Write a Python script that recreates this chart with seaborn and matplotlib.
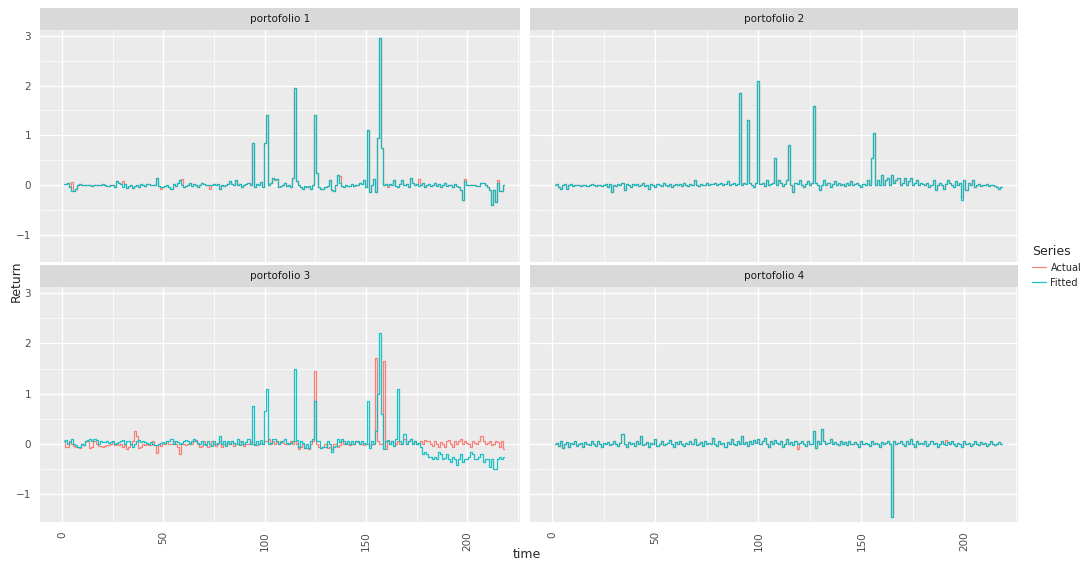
import numpy as np
import pandas as pd
import matplotlib
matplotlib.use("Agg")
import matplotlib.pyplot as plt
import seaborn as sns

panels = ["portofolio 1", "portofolio 2", "portofolio 3", "portofolio 4"]
series_names = ["Actual", "Fitted"]

p1_fit = [0.03,0.02,0.05,-0.05,-0.12,-0.12,-0.08,0.0,0.02,0.01,0.0,-0.01,0.0,0.01,-0.02,0.0,0.0,-0.01,0.01,0.02,
 0.0,-0.03,-0.03,0.0,0.01,-0.04,0.08,0.05,0.03,-0.05,0.02,-0.07,-0.02,0.0,-0.06,-0.03,0.01,-0.04,0.02,0.0,
 -0.02,0.02,0.03,0.0,0.01,0.01,0.15,-0.03,-0.05,-0.05,-0.02,0.0,-0.05,-0.08,0.02,-0.03,0.04,0.1,0.0,-0.05,
 -0.02,0.01,0.05,-0.03,0.03,0.0,-0.05,0.0,0.04,0.02,0.0,0.0,0.01,-0.01,0.02,0.0,0.03,-0.08,0.01,-0.02,
 0.01,0.02,0.08,0.03,0.0,0.1,0.0,0.02,-0.05,0.0,0.02,0.05,0.01,0.85,-0.05,0.02,0.0,0.06,-0.05,0.85,
 1.4,0.0,0.05,0.15,0.12,0.12,-0.05,-0.03,0.0,0.05,-0.02,0.0,-0.05,0.15,1.95,0.08,0.0,-0.05,-0.08,-0.02,
 -0.05,-0.03,-0.08,0.0,1.4,0.25,-0.05,-0.08,-0.08,-0.05,-0.03,0.1,-0.1,-0.12,0.0,0.2,0.05,-0.02,-0.05,0.0,
 -0.03,-0.02,0.02,-0.02,0.0,0.0,0.05,0.02,0.1,-0.05,1.1,-0.15,0.0,0.12,-0.15,0.95,2.95,0.75,0.0,0.02,
 0.0,0.02,0.0,0.1,-0.03,-0.05,0.02,0.1,0.0,0.02,-0.05,0.15,0.05,0.0,0.02,-0.03,0.0,0.05,-0.05,0.0,
 0.02,-0.02,0.0,0.05,-0.03,0.02,-0.05,0.0,0.05,-0.02,0.0,0.0,-0.05,0.02,-0.03,-0.05,-0.1,-0.3,0.08,0.0,
 0.0,0.0,0.0,0.0,-0.03,-0.02,0.05,0.05,0.0,-0.05,-0.1,-0.4,-0.1,-0.35,0.05,-0.12,-0.12,0.0]
p1_act_changes = {4: 0.06, 29: 0.08, 48: -0.08, 58: 0.12, 72: -0.08, 104: 0.1, 136: 0.18, 160: -0.05, 175: 0.12, 198: 0.12, 214: 0.1}

p2_fit = [0.0,0.02,-0.05,-0.08,0.0,0.03,-0.08,0.0,0.02,-0.03,0.0,0.01,0.0,-0.02,0.0,0.01,-0.03,0.0,0.02,0.0,
 -0.02,0.0,0.01,-0.03,0.0,0.02,-0.05,0.03,-0.15,0.0,-0.03,0.02,0.0,0.05,-0.1,0.02,0.0,-0.05,0.03,0.0,
 0.02,-0.03,0.0,0.05,-0.02,0.0,-0.08,0.02,0.0,-0.05,0.03,0.0,-0.02,0.05,0.0,-0.03,0.02,-0.05,0.0,0.02,
 0.0,0.03,-0.02,0.05,0.0,-0.03,0.02,0.0,0.1,0.0,-0.02,0.03,0.0,0.0,0.05,0.0,0.03,0.02,0.05,0.0,
 0.02,0.05,0.0,0.03,0.08,0.0,0.03,0.05,0.0,0.02,1.85,0.0,0.05,0.02,1.3,0.05,0.0,-0.05,0.05,2.1,
 0.02,0.05,-0.03,0.1,0.0,0.03,0.05,0.55,0.0,0.1,0.05,-0.03,0.02,0.1,0.8,0.0,-0.15,0.05,0.03,0.1,
 0.0,-0.05,0.03,0.08,0.0,0.05,1.6,0.05,0.0,-0.1,0.0,0.1,0.0,0.05,-0.05,0.02,0.08,0.0,0.05,0.0,
 0.03,-0.03,0.05,0.0,0.08,0.0,0.02,0.05,0.0,-0.05,0.03,0.0,0.1,0.0,0.55,1.05,0.0,0.1,0.0,0.2,
 0.0,0.1,0.15,0.0,0.2,0.05,0.1,0.15,0.0,0.05,0.15,0.0,0.08,0.15,0.0,0.05,0.1,0.0,0.05,0.02,
 0.0,0.05,-0.05,0.0,0.1,-0.1,0.0,0.05,0.0,-0.08,0.02,0.1,0.05,0.0,-0.05,0.08,0.0,0.05,-0.3,0.1,
 -0.1,0.05,0.0,0.1,-0.05,0.0,0.02,-0.03,0.0,0.0,0.02,-0.02,0.0,0.0,-0.03,-0.05,-0.08,-0.05]
p2_act_changes = {198: -0.25}

p3_fit = [0.05,0.08,0.0,0.03,0.1,0.0,-0.02,-0.05,-0.05,0.0,-0.02,0.05,0.08,0.1,0.05,0.1,0.08,0.0,0.05,0.03,
 0.03,0.05,0.02,0.03,0.05,0.0,0.02,0.03,0.05,0.08,0.0,0.05,0.05,0.0,-0.05,0.0,0.05,0.08,0.03,0.05,
 0.03,0.02,0.0,0.03,0.0,-0.02,-0.02,0.0,0.02,0.03,0.02,0.05,0.05,0.1,0.0,0.05,0.03,0.0,0.02,0.05,
 0.08,0.05,0.0,0.05,0.1,0.05,0.02,0.0,0.05,0.0,-0.02,0.05,0.0,-0.03,0.05,0.0,0.02,0.15,0.0,0.05,
 -0.03,0.05,0.0,0.05,0.02,0.0,0.1,-0.02,0.05,0.0,0.03,0.1,0.0,0.75,-0.02,0.05,0.0,0.08,0.0,0.65,
 1.1,0.0,0.02,0.1,0.1,0.05,0.0,0.03,0.05,0.1,0.02,0.0,0.02,0.05,1.5,0.08,-0.05,0.05,0.02,-0.08,
 0.0,-0.08,0.05,0.1,0.85,0.05,0.05,-0.08,-0.05,-0.05,0.05,0.0,-0.15,-0.05,-0.03,0.1,0.03,0.1,0.05,0.0,
 0.05,0.0,0.05,0.0,0.05,0.05,0.0,0.05,0.02,0.0,0.85,-0.08,0.05,0.0,0.25,1.0,2.2,0.6,-0.1,0.05,
 0.08,0.0,0.05,-0.03,0.1,1.1,0.05,0.0,0.2,0.0,0.05,0.1,0.0,0.05,0.0,0.02,-0.05,-0.2,-0.15,-0.2,
 -0.25,-0.25,-0.3,-0.25,-0.3,-0.15,-0.2,-0.3,-0.28,-0.2,-0.3,-0.35,-0.25,-0.3,-0.42,-0.3,-0.2,-0.35,-0.3,-0.3,
 -0.25,-0.15,-0.2,-0.3,-0.3,-0.25,-0.2,-0.35,-0.3,-0.3,-0.45,-0.3,-0.5,-0.5,-0.3,-0.25,-0.3,-0.25]
p3_act = [0.05,-0.05,-0.05,0.05,0.0,-0.03,-0.05,-0.05,-0.08,0.0,-0.02,0.05,0.05,-0.08,-0.05,0.05,0.0,-0.03,-0.03,-0.05,
 -0.03,-0.02,-0.01,0.0,0.03,-0.02,0.0,-0.02,0.0,-0.05,-0.02,-0.1,-0.05,0.0,0.05,0.25,0.15,-0.08,-0.05,0.0,
 -0.02,0.0,-0.02,-0.02,0.05,-0.02,-0.18,0.0,-0.03,0.0,0.0,0.05,0.0,0.0,0.05,0.0,-0.05,-0.2,0.0,0.0,
 -0.02,0.0,0.02,0.0,0.05,0.08,0.0,-0.05,-0.03,0.05,0.0,-0.05,-0.03,0.05,0.0,-0.03,0.0,0.05,-0.05,0.0,
 0.0,0.02,0.0,0.05,-0.03,0.0,0.0,0.05,0.0,-0.03,0.0,0.0,0.05,0.0,0.0,-0.02,0.0,0.02,0.0,0.05,
 0.05,0.1,0.0,0.05,0.0,0.03,0.0,0.05,0.02,0.0,0.0,0.02,0.05,0.0,0.05,0.0,-0.1,-0.05,0.0,-0.08,
 -0.08,-0.1,0.0,0.05,1.45,0.0,-0.05,-0.08,-0.05,0.0,-0.08,-0.05,-0.1,0.0,0.0,-0.05,-0.02,0.05,0.0,0.02,
 0.0,-0.02,0.0,0.0,0.05,0.03,0.0,0.0,-0.02,0.0,0.0,-0.02,0.0,0.0,1.7,0.05,0.0,0.0,1.65,-0.1,
 0.05,0.0,0.05,-0.03,0.0,0.05,0.0,0.0,0.1,0.0,0.05,0.1,0.0,0.05,0.0,0.02,0.05,0.0,0.08,0.05,
 0.05,0.0,-0.03,0.05,0.0,-0.05,0.03,0.0,-0.05,0.05,0.08,0.0,-0.05,0.05,0.0,0.05,0.1,0.0,0.05,0.02,
 0.0,-0.05,0.05,0.02,0.0,0.05,0.15,0.05,0.0,0.02,0.05,-0.02,0.0,0.05,0.03,-0.05,0.05,-0.1]

p4_fit = [0.0,0.02,-0.03,0.05,-0.08,0.0,0.03,-0.05,0.02,0.0,0.05,-0.03,0.0,0.02,-0.05,0.03,0.0,-0.02,0.05,0.0,
 -0.03,0.05,0.0,-0.05,0.02,0.0,0.03,-0.02,0.0,0.05,0.0,-0.03,0.02,0.2,0.0,-0.05,0.03,0.0,0.02,-0.03,
 0.05,0.0,0.15,-0.02,0.0,0.03,-0.05,0.02,0.0,0.1,-0.03,0.0,0.05,-0.02,0.0,0.02,0.08,0.0,-0.05,0.03,
 0.0,0.05,0.0,-0.03,0.02,0.0,0.05,0.0,0.1,-0.02,0.0,0.03,-0.03,0.05,0.0,0.02,0.0,0.12,0.0,-0.03,
 0.05,0.0,0.02,-0.05,0.03,0.0,0.1,0.0,-0.02,0.05,0.0,0.15,0.0,0.03,-0.03,0.05,0.0,0.08,0.02,0.1,
 0.0,0.05,0.12,0.0,-0.05,0.05,0.0,0.08,0.02,0.0,0.05,-0.05,0.0,0.1,0.0,0.03,-0.02,0.05,0.0,0.02,
 0.05,0.0,-0.03,0.05,0.0,0.0,0.25,-0.08,0.05,0.0,0.3,0.05,0.0,0.02,0.1,0.0,0.03,0.0,-0.02,0.05,
 0.0,0.03,-0.02,0.05,0.0,0.0,0.03,0.0,-0.05,0.05,0.0,0.02,0.0,-0.03,0.05,0.0,0.02,0.0,-0.05,0.03,
 0.0,0.02,0.05,0.0,-1.45,0.05,0.0,0.02,0.05,0.0,-0.03,0.05,0.0,0.1,0.0,-0.05,0.05,0.0,0.02,0.0,
 0.05,-0.03,0.0,0.05,0.0,0.02,-0.05,0.0,0.05,0.0,-0.02,0.03,0.0,0.05,0.0,-0.03,0.02,0.0,-0.05,0.05,
 0.0,0.02,-0.03,0.0,0.05,0.0,-0.02,0.03,0.0,0.02,-0.03,0.0,0.05,0.0,-0.02,0.0,0.03,0.0]
p4_act_changes = {118: -0.1, 190: 0.08}

def with_changes(base, ch):
    out = list(base)
    for k, v in ch.items():
        out[k] = v
    return out

actuals = [with_changes(p1_fit, p1_act_changes), with_changes(p2_fit, p2_act_changes), p3_act,
           with_changes(p4_fit, p4_act_changes)]
fitteds = [p1_fit, p2_fit, p3_fit, p4_fit]

rows = []
for name, a, f in zip(panels, actuals, fitteds):
    for i, (va, vf) in enumerate(zip(a, f)):
        rows.append((name, i + 1, va, "Actual"))
        rows.append((name, i + 1, vf, "Fitted"))
df = pd.DataFrame(rows, columns=["panel", "time", "Return", "Series"])

sns.set_theme(style="darkgrid")
palette = {"Actual": "#F8766D", "Fitted": "#00BFC4"}

fig = plt.figure(figsize=(10.88, 5.62), dpi=100)
W, H = 1088, 562
boxes = [(40, 30, 520, 262), (530, 30, 1018, 262), (40, 287, 520, 522), (530, 287, 1018, 522)]
axes = []
for k, (x0, y0, x1, y1) in enumerate(boxes):
    ax = fig.add_axes([x0 / W, 1 - y1 / H, (x1 - x0) / W, (y1 - y0) / H])
    ax.set_facecolor("#EBEBEB")
    sub = df[df.panel == panels[k]]
    sns.lineplot(data=sub, x="time", y="Return", hue="Series", palette=palette,
                 drawstyle="steps-mid", linewidth=0.9, ax=ax, legend=(k == 0), alpha=0.9)
    ax.set_xlim(-10.9, 226)
    ax.set_ylim(-1.55, 3.12)
    ax.set_xticks([0, 50, 100, 150, 200])
    ax.set_xticks([25, 75, 125, 175, 225], minor=True)
    ax.set_yticks([-1, 0, 1, 2, 3])
    ax.set_yticks([-0.5, 0.5, 1.5, 2.5], minor=True)
    ax.grid(which="major", color="white", linewidth=1.0)
    ax.grid(which="minor", color="white", linewidth=0.5)
    for s in ax.spines.values():
        s.set_visible(False)
    ax.set_xlabel("")
    ax.set_ylabel("")
    ax.tick_params(colors="#4D4D4D", labelsize=7.5, length=3, width=0.6)
    ax.tick_params(axis="x", labelrotation=90)
    if k < 2:
        ax.tick_params(axis="x", labelbottom=False, length=0)
    if k % 2 == 1:
        ax.tick_params(axis="y", labelleft=False, length=0)
    sx = fig.add_axes([x0 / W, 1 - (y0) / H, (x1 - x0) / W, 22 / H])
    sx.set_facecolor("#D9D9D9")
    sx.set_xticks([]); sx.set_yticks([])
    for s in sx.spines.values():
        s.set_visible(False)
    sx.text(0.5, 0.5, panels[k], ha="center", va="center", fontsize=7.5, color="#1A1A1A", transform=sx.transAxes)
    axes.append(ax)

h, l = axes[0].get_legend_handles_labels()
axes[0].get_legend().remove()
fig.legend(h, l, title="Series", loc="upper left", bbox_to_anchor=(1032 / W, 1 - 245 / H),
           frameon=False, fontsize=7, title_fontsize=9, handlelength=1.4, handletextpad=0.5,
           borderpad=0, borderaxespad=0, alignment="left")
fig.text(527 / W, 1 - 561 / H, "time", ha="center", va="bottom", fontsize=9)
fig.text(16 / W, 0.5, "Return", rotation=90, ha="center", va="center", fontsize=9)
fig.savefig("out.png", dpi=100)
